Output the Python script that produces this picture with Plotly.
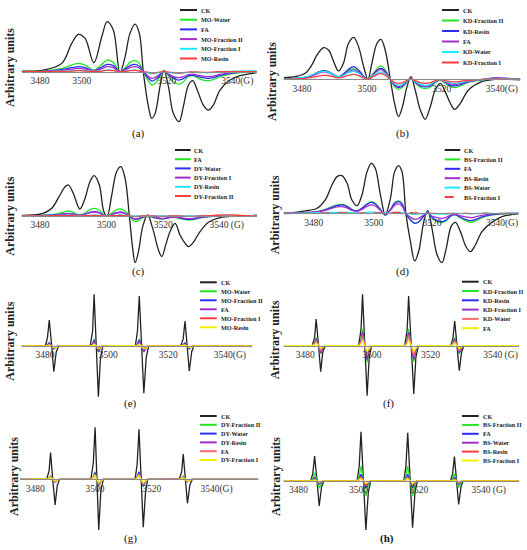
import plotly.graph_objects as go

W, H = 527, 550

# ---------------- colours ----------------
BLACK = "#222222"
GREEN = "#22e622"
BLUE = "#2b2bff"
PURPLE = "#a52ccc"
CYAN = "#1ee8ff"
RED = "#ff3b3b"
PINK = "#ff6a6a"
YELLOW = "#f2ee00"

# ---------------- panel (a) ----------------
A_FIELD = [3473.2, 3480.3, 3486.4, 3489.7, 3491.9, 3494.1, 3497.0, 3499.6, 3501.4, 3503.4, 3505.6, 3507.3,
           3508.9, 3510.6, 3512.0, 3513.3, 3515.0, 3516.1, 3517.2, 3518.8, 3520.1, 3521.6, 3523.2, 3525.1,
           3526.5, 3528.2, 3529.6, 3531.1, 3533.1, 3534.8, 3536.4, 3538.6, 3541.9, 3545.2, 3550.7]
A_CK = [2, 5, 25, 85, 112, 100, 27, 105, 150, 125, -3, 45, 115, 143, 115, 0, -105, -140, -125, -45, 5, -45,
        -125, -150, -105, -40, -27, -55, -100, -115, -100, -55, -25, -12, -3]
A_MO_WATER = [1, 2, 10, 20, 25, 20, 5, 22, 35, 28, 0, 12, 28, 33, 25, 0, -28, -40, -35, -15, 3, -12, -30, -37,
              -30, -15, -12, -18, -25, -27, -24, -15, -7, -3, 0]
A_FA = [0, 1, 6, 12, 15, 12, 3, 14, 22, 18, 0, 8, 18, 22, 16, 0, -20, -28, -24, -10, 2, -9, -20, -25, -21, -12,
        -10, -14, -18, -20, -18, -11, -5, -2, 0]
A_MO_FRAC2 = [0, 1, 4, 8, 10, 8, 2, 9, 15, 12, 0, 5, 12, 15, 11, 0, -14, -20, -17, -7, 1, -7, -15, -18, -15, -9,
              -7, -10, -13, -15, -13, -8, -4, -1, 0]
A_MO_FRAC1 = [0, 0, 2, 3, 4, 3, 1, 3, 5, 4, 0, 2, 4, 5, 3, 0, -4, -6, -5, -2, 0, -2, -4, -5, -4, -2, -1, -2, -3,
              -3, -2, 0, 1, 2, 3]
A_MO_RESIN = [0, 0, 1, 2, 3, 2, 1, 2, 4, 3, 0, 1, 3, 4, 2, 0, -2, -4, -3, -1, 0, -1, -3, -4, -3, -1, -1, -1, -2,
              -2, -1, 0, 0, 0, 0]
A_TICKS = [3479.2, 3493.0, 3521.0, 3544.3]
A_TICKTEXT = ["3480", "3500", "3520", "3540(G)"]

# ---------------- panel (b) ----------------
B_FIELD = [3473.2, 3477.0, 3480.3, 3482.5, 3484.2, 3486.4, 3488.0, 3489.7, 3491.3, 3492.9, 3494.6, 3496.3,
           3497.9, 3499.6, 3501.0, 3502.3, 3504.0, 3505.3, 3506.7, 3508.4, 3509.8, 3511.1, 3512.4, 3513.9,
           3515.2, 3516.6, 3518.3, 3519.9, 3521.6, 3523.2, 3524.9, 3526.5, 3528.2, 3529.6, 3531.5, 3534.2,
           3538.6, 3543.0, 3551.3]
B_CK = [5, 8, 18, 43, 73, 95, 88, 53, 25, 48, 108, 126, 98, 38, 0, 48, 108, 120, 88, 0, -72, -112, -82, -22, 8,
        -32, -92, -120, -82, -32, -12, -37, -72, -90, -72, -32, -7, 0, -2]
B_KD_FRAC2 = [2, 3, 6, 12, 20, 26, 22, 14, 8, 14, 26, 32, 24, 8, 0, 12, 32, 40, 28, 0, -22, -30, -24, -8, 4, -10,
              -24, -28, -24, -10, -3, -12, -22, -25, -20, -9, -2, 2, 0]
B_KD_RESIN = [1, 3, 6, 12, 20, 26, 22, 14, 7, 16, 30, 38, 28, 9, 0, 10, 27, 33, 24, 0, -18, -25, -20, -7, 4, -8,
              -20, -23, -20, -8, -2, -9, -18, -20, -16, -7, -1, 4, 0]
B_FA = [1, 2, 5, 10, 16, 22, 19, 12, 6, 12, 22, 28, 21, 7, 0, 9, 24, 30, 21, 0, -16, -22, -18, -6, 3, -7, -17,
        -20, -17, -7, -2, -8, -14, -16, -13, -6, -1, 3, 0]
B_KD_WATER = [1, 3, 7, 13, 19, 24, 21, 13, 7, 12, 20, 24, 18, 6, 0, 8, 18, 22, 16, 0, -13, -18, -15, -5, 2, -6,
              -15, -18, -15, -6, -2, -6, -11, -12, -10, -5, -1, 2, 0]
B_KD_FRAC1 = [0, 1, 3, 6, 9, 12, 11, 7, 4, 7, 12, 15, 11, 4, 0, 6, 14, 18, 12, 0, -9, -12, -10, -3, 2, -4, -10,
              -12, -10, -4, -1, -4, -7, -8, -6, -3, 0, 1, 0]
B_TICKS = [3479.2, 3500.7, 3525.4, 3545.2]
B_TICKTEXT = ["3480", "3500", "3520", "3540(G)"]

# ---------------- panel (c) ----------------
C_FIELD = [3473.2, 3477.0, 3480.3, 3483.1, 3485.8, 3487.5, 3488.6, 3490.2, 3492.4, 3494.1, 3495.7, 3497.1,
           3498.8, 3500.3, 3501.4, 3502.9, 3504.5, 3505.9, 3507.3, 3508.7, 3509.8, 3510.6, 3511.7, 3513.1,
           3514.7, 3516.4, 3518.3, 3519.4, 3520.7, 3522.1, 3523.8, 3525.4, 3527.1, 3528.2, 3529.8, 3532.0,
           3534.8, 3538.6, 3543.0, 3547.4, 3550.7]
C_CK = [2, 3, 8, 23, 63, 88, 93, 68, 21, 53, 103, 121, 93, 13, 0, 63, 133, 148, 113, 0, -97, -140, -107, -32, 3,
        -37, -102, -122, -87, -47, -22, -57, -82, -92, -79, -47, -19, -5, -1, -1, 3]
C_FA = [0, 1, 2, 4, 9, 13, 15, 11, 3, 9, 19, 23, 17, 3, 0, 9, 19, 21, 15, 0, -12, -17, -14, -5, -1, -4, -8, -9,
        -8, -5, -4, -8, -11, -12, -11, -6, -2, 0, 0, 0, 1]
C_DY_WATER = [0, 1, 2, 3, 5, 7, 8, 6, 2, 6, 11, 13, 10, 2, 0, 5, 10, 12, 8, 0, -7, -10, -8, -3, 0, -3, -7, -8,
              -7, -4, -3, -6, -9, -10, -9, -5, -2, 0, 0, 0, 1]
C_DY_FRAC1 = [0, 1, 1, 2, 4, 6, 7, 5, 2, 5, 10, 12, 9, 2, 0, 4, 9, 10, 7, 0, -6, -9, -7, -3, 0, -2, -6, -7, -6,
              -4, -3, -5, -7, -8, -7, -4, -1, 0, 0, 0, 1]
C_DY_RESIN = [1, 1, 1, 2, 2, 2, 3, 2, 1, 2, 2, 3, 2, 1, 1, 2, 2, 3, 2, 1, 0, 0, 0, 1, 1, 1, 0, 0, 0, 1, 1, 0, 0,
              0, 0, 1, 1, 1, 1, 1, 2]
C_DY_FRAC2 = [0, 0, 0, 1, 1, 1, 2, 1, 0, 1, 1, 2, 1, 0, 0, 1, 1, 2, 1, 0, -1, -2, -1, 0, 0, 0, -1, -1, -1, 0, 0,
              0, -1, -1, -1, 0, 1, 3, 3, 1, 0]
C_TICKS = [3479.2, 3501.2, 3519.9, 3540.8]
C_TICKTEXT = ["3480", "3500", "3520", "3540 (G)"]

# ---------------- panel (d) ----------------
D_FIELD = [3473.2, 3477.0, 3480.3, 3484.2, 3486.9, 3489.1, 3490.8, 3492.4, 3494.1, 3495.7, 3497.4, 3499.0,
           3500.7, 3502.1, 3503.4, 3505.1, 3506.7, 3508.4, 3509.8, 3511.1, 3512.2, 3513.5, 3515.0, 3516.4,
           3517.7, 3519.4, 3520.7, 3522.1, 3523.8, 3525.4, 3526.8, 3528.4, 3529.8, 3531.5, 3533.3, 3534.8,
           3536.4, 3538.6, 3541.9, 3545.2, 3550.7]
D_CK = [1, 3, 7, 15, 40, 85, 110, 113, 90, 40, 23, 55, 125, 150, 135, 55, -5, 45, 125, 143, 125, 0, -85, -143,
        -115, -25, 8, -45, -125, -148, -105, -40, -27, -55, -100, -115, -95, -55, -27, -10, -2]
D_BS_FRAC2 = [0, 1, 2, 5, 12, 20, 25, 27, 22, 12, 7, 16, 28, 35, 30, 12, -5, 12, 32, 37, 30, 0, -20, -30, -26,
              -8, 0, -14, -25, -28, -22, -8, -5, -14, -23, -27, -23, -13, -5, -2, 0]
D_FA = [-1, 0, 1, 4, 10, 18, 23, 25, 20, 11, 7, 15, 27, 33, 28, 11, -5, 11, 30, 35, 28, 0, -20, -30, -26, -8, 2,
        -12, -22, -25, -20, -7, -4, -12, -19, -22, -19, -11, -4, -1, 0]
D_BS_RESIN = [0, 1, 2, 4, 9, 15, 19, 20, 16, 9, 6, 12, 21, 25, 22, 9, -3, 9, 24, 28, 22, 0, -12, -18, -15, -5, 1,
              -8, -13, -15, -12, -5, -3, -8, -11, -13, -11, -6, -2, -1, 0]
D_BS_WATER = [0, 0, 1, 1, 2, 3, 3, 3, 3, 2, 1, 2, 3, 4, 3, 2, 0, 1, 2, 3, 2, 0, -2, -3, -2, -1, 0, -1, -2, -2,
              -2, -1, 0, -1, -1, -1, -1, 0, 0, 0, 0]
D_BS_FRAC1 = [0, 0, 0, 0, 1, 1, 1, 1, 1, 0, 0, 1, 1, 1, 1, 1, 1, 2, 3, 3, 3, 3, 2, 1, 1, 0, 0, 0, 0, 0, -1, 0, 0,
              0, 0, -1, 0, 0, 0, 0, 0]
D_TICKS = [3483.1, 3502.9, 3522.1, 3545.2]
D_TICKTEXT = ["3480", "3500", "3520", "3540(G)"]

# ---------------- panel (e) ----------------
E_FIELD = [3473.2, 3481.0, 3481.7, 3482.3, 3483.1, 3483.8, 3484.6, 3485.4, 3495.8, 3496.6, 3497.1, 3497.9,
           3498.5, 3499.2, 3500.0, 3510.7, 3511.4, 3512.0, 3512.8, 3513.5, 3514.3, 3515.1, 3525.7, 3526.5,
           3527.1, 3527.8, 3528.5, 3529.3, 3530.0, 3549.1]
E_CK = [0, 0, 25, 78, 0, -77, -18, 0, 0, 45, 155, 0, -152, -35, 0, 0, 45, 150, 0, -142, -33, 0, 0, 22, 75, 0,
        -75, -17, 0, 0]
E_MO_WATER = [0, 0, 4, 11, 0, -9, -3, 0, 0, 7, 21, 0, -19, -6, 0, 0, 7, 21, 0, -19, -6, 0, 0, 3, 10, 0, -9, -3,
              0, 0]
E_MO_FRAC2 = [0, 0, 3, 9, 0, -8, -3, 0, 0, 6, 18, 0, -16, -5, 0, 0, 6, 18, 0, -17, -5, 0, 0, 3, 9, 0, -8, -3,
              0, 0]
E_FA = [0, 0, 3, 8, 0, -8, -3, 0, 0, 5, 15, 0, -15, -5, 0, 0, 5, 16, 0, -17, -6, 0, 0, 3, 8, 0, -7, -3, 0, 0]
E_MO_FRAC1 = [0, 0, 1, 3, 0, -3, -1, 0, 0, 2, 5, 0, -5, -2, 0, 0, 2, 5, 0, -5, -2, 0, 0, 1, 3, 0, -3, -1, 0, 0]
E_MO_RESIN = [0, 0, 1, 3, 0, -5, -4, 0, 0, 2, 6, 0, -8, -6, 0, 0, 2, 6, 0, -8, -6, 0, 0, 1, 3, 0, -5, -4, 0, 0]
E_TICKS = [3480.9, 3501.8, 3521.6, 3541.9]
E_TICKTEXT = ["3480", "3500", "3520", "3540(G)"]

# ---------------- panel (f) ----------------
F_FIELD = [3473.2, 3482.6, 3483.4, 3483.9, 3484.7, 3485.4, 3486.1, 3486.9, 3497.9, 3498.7, 3499.2, 3499.9,
           3500.7, 3501.4, 3502.2, 3513.1, 3513.9, 3514.4, 3515.2, 3516.1, 3516.8, 3517.6, 3528.3, 3529.0,
           3529.6, 3530.4, 3531.1, 3531.9, 3532.7, 3550.7]
F_CK = [0, 0, 25, 80, 0, -78, -18, 0, 0, 48, 154, 0, -150, -35, 0, 0, 46, 149, 0, -145, -34, 0, 0, 22, 74, 0,
        -75, -17, 0, 0]
F_KD_FRAC2 = [0, 0, 8, 25, 0, -25, -7, 0, 0, 15, 50, 0, -50, -13, 0, 0, 15, 50, 0, -48, -13, 0, 0, 8, 25, 0,
              -25, -7, 0, 0]
F_KD_RESIN = [0, 0, 6, 20, 0, -20, -6, 0, 0, 12, 40, 0, -40, -11, 0, 0, 12, 40, 0, -40, -11, 0, 0, 6, 20, 0,
              -20, -6, 0, 0]
F_KD_FRAC1 = [0, 0, 6, 19, 0, -22, -6, 0, 0, 11, 38, 0, -42, -11, 0, 0, 11, 38, 0, -40, -11, 0, 0, 5, 18, 0,
              -20, -6, 0, 0]
F_KD_WATER = [0, 0, 5, 15, 0, -15, -4, 0, 0, 9, 30, 0, -30, -8, 0, 0, 9, 30, 0, -30, -8, 0, 0, 5, 15, 0, -15,
              -4, 0, 0]
F_FA = [0, 0, 3, 8, 0, -8, -4, 0, 0, 5, 17, 0, -16, -8, 0, 0, 5, 17, 0, -16, -8, 0, 0, 3, 8, 0, -8, -4, 0, 0]
F_TICKS = [3480.3, 3502.3, 3521.6, 3544.7]
F_TICKTEXT = ["3480", "3500", "3520", "3540 (G)"]

# ---------------- panel (g) ----------------
G_FIELD = [3472.6, 3481.4, 3482.2, 3482.7, 3483.4, 3484.2, 3484.9, 3485.7, 3496.0, 3496.8, 3497.4, 3497.9,
           3498.6, 3499.3, 3500.1, 3510.6, 3511.3, 3511.9, 3512.5, 3513.3, 3514.1, 3514.8, 3525.2, 3526.0,
           3526.5, 3527.2, 3527.9, 3528.7, 3529.5, 3551.3]
G_CK = [0, 0, 25, 80, 0, -77, -18, 0, 0, 48, 156, 0, -152, -35, 0, 0, 46, 150, 0, -144, -33, 0, 0, 23, 76, 0,
        -72, -17, 0, 0]
G_DY_FRAC2 = [0, 0, 3, 10, 0, -8, -3, 0, 0, 7, 23, 0, -20, -6, 0, 0, 7, 23, 0, -22, -6, 0, 0, 3, 10, 0, -8, -3,
              0, 0]
G_DY_WATER = [0, 0, 3, 8, 0, -8, -3, 0, 0, 6, 20, 0, -18, -5, 0, 0, 7, 22, 0, -20, -6, 0, 0, 3, 8, 0, -7, -2,
              0, 0]
G_DY_RESIN = [0, 0, 2, 6, 0, -6, -2, 0, 0, 5, 15, 0, -14, -4, 0, 0, 5, 16, 0, -14, -4, 0, 0, 2, 6, 0, -6, -2,
              0, 0]
G_FA = [0, 0, 3, 8, 0, -8, -3, 0, 0, 5, 15, 0, -15, -5, 0, 0, 5, 16, 0, -16, -5, 0, 0, 3, 8, 0, -8, -3, 0, 0]
G_DY_FRAC1 = [0, 0, 2, 5, 0, -5, -2, 0, 0, 4, 12, 0, -10, -4, 0, 0, 4, 12, 0, -10, -4, 0, 0, 2, 5, 0, -5, -2,
              0, 0]
G_TICKS = [3477.6, 3497.4, 3516.1, 3537.5]
G_TICKTEXT = ["3480", "3500", "3520", "3540(G)"]

# ---------------- panel (h) ----------------
H_FIELD = [3473.2, 3482.1, 3482.8, 3483.4, 3484.2, 3484.9, 3485.7, 3486.5, 3497.4, 3498.1, 3498.7, 3499.6,
           3500.3, 3501.1, 3501.9, 3512.8, 3513.5, 3514.1, 3514.9, 3515.7, 3516.5, 3517.3, 3528.2, 3528.9,
           3529.5, 3530.2, 3530.9, 3531.7, 3532.4, 3550.7]
H_CK = [0, 0, 23, 75, 0, -75, -17, 0, 0, 45, 148, 0, -147, -34, 0, 0, 44, 145, 0, -140, -33, 0, 0, 22, 73, 0,
        -70, -16, 0, 0]
H_BS_FRAC2 = [0, 0, 8, 25, 0, -22, -7, 0, 0, 14, 45, 0, -45, -12, 0, 0, 14, 45, 0, -45, -12, 0, 0, 7, 22, 0,
              -20, -6, 0, 0]
H_FA = [0, 0, 3, 10, 0, -10, -3, 0, 0, 6, 20, 0, -22, -6, 0, 0, 6, 20, 0, -20, -6, 0, 0, 3, 10, 0, -10, -3, 0, 0]
H_BS_WATER = [0, 0, 2, 6, 0, -6, -2, 0, 0, 4, 12, 0, -12, -4, 0, 0, 4, 12, 0, -12, -4, 0, 0, 2, 6, 0, -6, -2,
              0, 0]
H_BS_RESIN = [0, 0, 2, 5, 0, -6, -2, 0, 0, 4, 12, 0, -14, -4, 0, 0, 3, 10, 0, -12, -4, 0, 0, 2, 5, 0, -6, -2,
              0, 0]
H_BS_FRAC1 = [0, 0, 1, 4, 0, -4, -1, 0, 0, 3, 8, 0, -8, -3, 0, 0, 3, 8, 0, -8, -3, 0, 0, 1, 4, 0, -4, -1, 0, 0]
H_TICKS = [3478.1, 3497.9, 3517.7, 3540.8]
H_TICKTEXT = ["3480", "3500", "3520", "3540 (G)"]

# ---------------- panel layout (pixel positions) ----------------
PANELS = [
    dict(letter="(a)", x=A_FIELD, shape="spline", xpx=(21.7, 256.7), xr=(3473.2, 3550.7), base=71.7,
         ypx=(4, 128), ticks=A_TICKS, tt=A_TICKTEXT, ylab=(10, 68), let=(138, 133), bold_letter=False,
         leg=(180, 197, 199, 10, 9.7),
         series=[("CK", A_CK, BLACK, "solid"), ("MO-Water", A_MO_WATER, GREEN, "solid"),
                 ("FA", A_FA, BLUE, "solid"), ("MO-Fraction II", A_MO_FRAC2, PURPLE, "solid"),
                 ("MO-Fraction I", A_MO_FRAC1, CYAN, "solid"), ("MO-Resin", A_MO_RESIN, RED, "solid")]),
    dict(letter="(b)", x=B_FIELD, shape="spline", xpx=(283.7, 520.3), xr=(3473.2, 3551.3), base=79.3,
         ypx=(4, 128), ticks=B_TICKS, tt=B_TICKTEXT, ylab=(272, 82), let=(402, 133), bold_letter=False,
         leg=(442, 459, 461, 10, 10.5),
         series=[("CK", B_CK, BLACK, "solid"), ("KD-Fraction II", B_KD_FRAC2, GREEN, "solid"),
                 ("KD-Resin", B_KD_RESIN, BLUE, "solid"), ("FA", B_FA, PURPLE, "solid"),
                 ("KD-Water", B_KD_WATER, CYAN, "solid"), ("KD-Fraction I", B_KD_FRAC1, RED, "solid")]),
    dict(letter="(c)", x=C_FIELD, shape="spline", xpx=(21.7, 256.7), xr=(3473.2, 3550.7), base=216.0,
         ypx=(142, 268), ticks=C_TICKS, tt=C_TICKTEXT, ylab=(10, 216.7), let=(138, 271.7), bold_letter=False,
         leg=(175, 190.7, 192.3, 150, 9.2),
         series=[("CK", C_CK, BLACK, "solid"), ("FA", C_FA, GREEN, "solid"),
                 ("DY-Water", C_DY_WATER, BLUE, "solid"), ("DY-Fraction I", C_DY_FRAC1, PURPLE, "solid"),
                 ("DY-Resin", C_DY_RESIN, CYAN, "solid"), ("DY-Fraction II", C_DY_FRAC2, RED, "solid")]),
    dict(letter="(d)", x=D_FIELD, shape="spline", xpx=(283.7, 518.7), xr=(3473.2, 3550.7), base=213.3,
         ypx=(142, 268), ticks=D_TICKS, tt=D_TICKTEXT, ylab=(275.3, 215), let=(402, 271.7), bold_letter=False,
         leg=(444.7, 460.3, 462, 150, 9.4),
         series=[("CK", D_CK, BLACK, "solid"), ("BS-Fraction II", D_BS_FRAC2, GREEN, "solid"),
                 ("FA", D_FA, BLUE, "solid"), ("BS-Resin", D_BS_RESIN, PURPLE, "solid"),
                 ("BS-Water", D_BS_WATER, CYAN, "solid"), ("BS-Fraction I", D_BS_FRAC1, RED, "dash")]),
    dict(letter="(e)", x=E_FIELD, shape="linear", xpx=(21.7, 251.7), xr=(3473.2, 3549.1), base=346.0,
         ypx=(278, 400), ticks=E_TICKS, tt=E_TICKTEXT, ylab=(10, 341.7), let=(130, 403.3), bold_letter=False,
         leg=(200, 216.7, 218.7, 282.3, 9.0),
         series=[("CK", E_CK, BLACK, "solid"), ("MO-Water", E_MO_WATER, GREEN, "solid"),
                 ("MO-Fraction II", E_MO_FRAC2, BLUE, "solid"), ("FA", E_FA, PURPLE, "solid"),
                 ("MO-Fraction I", E_MO_FRAC1, RED, "solid"), ("MO-Resin", E_MO_RESIN, YELLOW, "solid")]),
    dict(letter="(f)", x=F_FIELD, shape="linear", xpx=(283.7, 518.7), xr=(3473.2, 3550.7), base=345.7,
         ypx=(278, 400), ticks=F_TICKS, tt=F_TICKTEXT, ylab=(275.3, 340), let=(388.7, 403.3), bold_letter=False,
         leg=(462, 478.7, 480.7, 281.7, 9.3),
         series=[("CK", F_CK, BLACK, "solid"), ("KD-Fraction II", F_KD_FRAC2, GREEN, "solid"),
                 ("KD-Resin", F_KD_RESIN, BLUE, "solid"), ("KD-Fraction I", F_KD_FRAC1, PURPLE, "solid"),
                 ("KD-Water", F_KD_WATER, PINK, "solid"), ("FA", F_FA, YELLOW, "solid")]),
    dict(letter="(g)", x=G_FIELD, shape="linear", xpx=(20.0, 258.3), xr=(3472.6, 3551.3), base=479.3,
         ypx=(412, 534), ticks=G_TICKS, tt=G_TICKTEXT, ylab=(13.3, 476.7), let=(130, 538.3), bold_letter=False,
         leg=(200, 216.7, 218.7, 416, 8.8),
         series=[("CK", G_CK, BLACK, "solid"), ("DY-Fraction II", G_DY_FRAC2, GREEN, "solid"),
                 ("DY-Water", G_DY_WATER, BLUE, "solid"), ("DY-Resin", G_DY_RESIN, PURPLE, "solid"),
                 ("FA", G_FA, PINK, "solid"), ("DY-Fraction I", G_DY_FRAC1, YELLOW, "solid")]),
    dict(letter="(h)", x=H_FIELD, shape="linear", xpx=(283.7, 518.7), xr=(3473.2, 3550.7), base=481.0,
         ypx=(412, 534), ticks=H_TICKS, tt=H_TICKTEXT, ylab=(275.3, 476.7), let=(387, 538.3), bold_letter=True,
         leg=(462, 478.7, 480.7, 416, 8.9),
         series=[("CK", H_CK, BLACK, "solid"), ("BS-Fraction II", H_BS_FRAC2, GREEN, "solid"),
                 ("FA", H_FA, BLUE, "solid"), ("BS-Water", H_BS_WATER, PURPLE, "solid"),
                 ("BS-Resin", H_BS_RESIN, RED, "solid"), ("BS-Fraction I", H_BS_FRAC1, YELLOW, "solid")]),
]

SERIF = "Liberation Serif, Times New Roman, serif"


def px_x(v):
    return v / W


def px_y(v):
    return 1 - v / H


fig = go.Figure()
layout = dict(width=W, height=H, margin=dict(l=0, r=0, t=0, b=0), paper_bgcolor="white",
              plot_bgcolor="rgba(0,0,0,0)", showlegend=False)
shapes, annotations = [], []

for i, p in enumerate(PANELS):
    n = i + 1
    xs = "" if n == 1 else str(n)
    for name, vals, color, dash in p["series"]:
        fig.add_trace(go.Scatter(x=p["x"], y=vals, mode="lines", name=name,
                                 xaxis="x" + xs, yaxis="y" + xs, hoverinfo="skip",
                                 line=dict(color=color, width=1.3, shape=p["shape"],
                                           dash=dash if dash != "solid" else None)))
    x0, x1 = p["xpx"]
    y0, y1 = p["ypx"]
    base = p["base"]
    layout["xaxis" + xs] = dict(domain=[px_x(x0), px_x(x1)], range=list(p["xr"]), anchor="free",
                                position=px_y(base), showline=True, linecolor="#8a8a8a", linewidth=1,
                                showgrid=False, zeroline=False, ticks="", tickvals=p["ticks"],
                                ticktext=p["tt"], tickfont=dict(family=SERIF, size=9.5, color="#333333"),
                                fixedrange=True)
    layout["yaxis" + xs] = dict(domain=[px_y(y1), px_y(y0)], range=[(base - y1) * 3, (base - y0) * 3],
                                visible=False, anchor="x" + xs, fixedrange=True)
    # y-axis title
    annotations.append(dict(x=px_x(p["ylab"][0]), y=px_y(p["ylab"][1]), xref="paper", yref="paper",
                            text="<b>Arbitrary units</b>", textangle=-90, showarrow=False,
                            xanchor="center", yanchor="middle",
                            font=dict(family=SERIF, size=12, color="#222222")))
    # panel letter
    lt = "<b>%s</b>" % p["letter"] if p["bold_letter"] else p["letter"]
    annotations.append(dict(x=px_x(p["let"][0]), y=px_y(p["let"][1]), xref="paper", yref="paper",
                            text=lt, showarrow=False, xanchor="center", yanchor="middle",
                            font=dict(family=SERIF, size=11, color="#111111")))
    # legend (drawn compactly as in the original)
    lx0, lx1, tx, ly0, lstep = p["leg"]
    for k, (name, vals, color, dash) in enumerate(p["series"]):
        yy = ly0 + k * lstep
        shapes.append(dict(type="line", xref="paper", yref="paper", x0=px_x(lx0), x1=px_x(lx1),
                           y0=px_y(yy), y1=px_y(yy),
                           line=dict(color=color, width=2, dash="dash" if dash == "dash" else "solid")))
        annotations.append(dict(x=px_x(tx), y=px_y(yy), xref="paper", yref="paper",
                                text="<b>%s</b>" % name, showarrow=False, xanchor="left", yanchor="middle",
                                font=dict(family=SERIF, size=6.2, color="#222222")))

layout["shapes"] = shapes
layout["annotations"] = annotations
fig.update_layout(**layout)
fig.write_html("out.html", config={"displayModeBar": False, "staticPlot": True},
               post_script="document.body.style.margin='0';document.body.style.overflow='hidden';")
